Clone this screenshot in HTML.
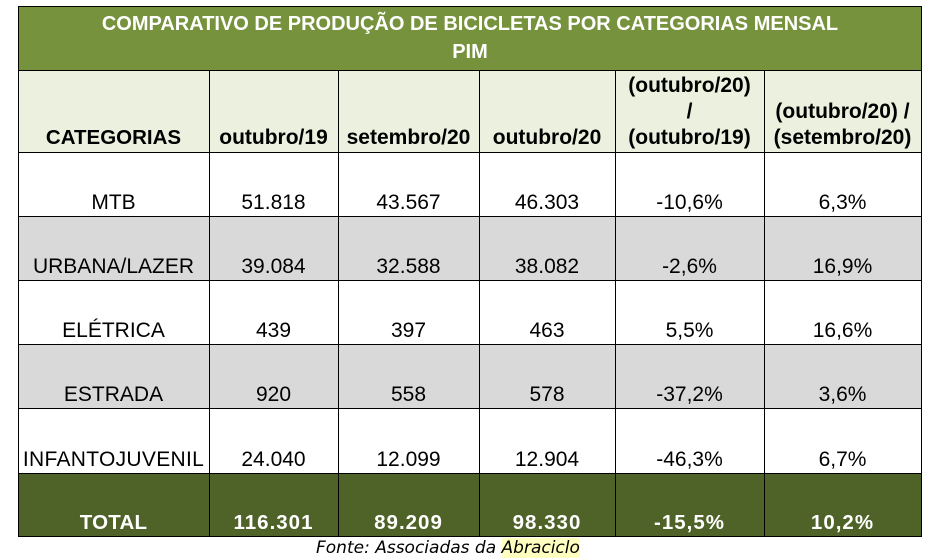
<!DOCTYPE html>
<html>
<head>
<meta charset="utf-8">
<style>
  html, body { margin:0; padding:0; }
  body { width:935px; height:557px; background:#ffffff; position:relative; overflow:hidden;
         font-family:"Liberation Sans", Arial, sans-serif; }
  .bg { position:absolute; }
  .c { position:absolute; display:flex; flex-direction:column; justify-content:flex-end; align-items:center;
       font-size:21px; line-height:26px; color:#000; text-align:center; white-space:nowrap; box-sizing:border-box; }
  .h { font-weight:bold; font-size:21px; }
  .t { font-weight:bold; color:#fff; letter-spacing:1px; font-size:20.5px; }
  .hl { position:absolute; height:1px; background:#000; }
  .vl { position:absolute; width:1px; background:#000; }
  .title { position:absolute; left:18px; width:904px; text-align:center; color:#fff; font-weight:bold;
           font-size:20px; white-space:nowrap; }
  .foot { position:absolute; left:316px; top:538px; height:20px; line-height:20px;
          font-family:"DejaVu Sans", Verdana, sans-serif; font-style:italic; font-size:17px; color:#000; white-space:nowrap; }
  .foot span { background:#FFFFC0; }
</style>
</head>
<body>
  <!-- backgrounds -->
  <div class="bg" style="left:18px;top:6px;width:904px;height:64px;background:#76923C;"></div>
  <div class="bg" style="left:18px;top:70px;width:904px;height:82px;background:#EBF1DE;"></div>
  <div class="bg" style="left:18px;top:216px;width:904px;height:64px;background:#D9D9D9;"></div>
  <div class="bg" style="left:18px;top:344px;width:904px;height:64px;background:#D9D9D9;"></div>
  <div class="bg" style="left:18px;top:473px;width:904px;height:63px;background:#4F6228;"></div>

  <!-- title -->
  <div class="title" style="top:10px;line-height:28px;">COMPARATIVO DE PRODUÇÃO DE BICICLETAS POR CATEGORIAS MENSAL</div>
  <div class="title" style="top:38px;line-height:28px;">PIM</div>

  <!-- header row -->
  <div class="c h" style="left:18px;top:70px;width:191px;height:82px;padding-bottom:1px;font-size:20.5px;">CATEGORIAS</div>
  <div class="c h" style="left:209px;top:70px;width:129px;height:82px;padding-bottom:1px;">outubro/19</div>
  <div class="c h" style="left:338px;top:70px;width:141px;height:82px;padding-bottom:1px;">setembro/20</div>
  <div class="c h" style="left:479px;top:70px;width:136px;height:82px;padding-bottom:1px;">outubro/20</div>
  <div class="c h" style="left:615px;top:70px;width:149px;height:82px;padding-bottom:1px;"><div>(outubro/20)</div><div>/</div><div>(outubro/19)</div></div>
  <div class="c h" style="left:764px;top:70px;width:157px;height:82px;padding-bottom:1px;"><div>(outubro/20) /</div><div>(setembro/20)</div></div>

  <!-- MTB -->
  <div class="c" style="left:18px;top:152px;width:191px;height:64px;">MTB</div>
  <div class="c" style="left:209px;top:152px;width:129px;height:64px;">51.818</div>
  <div class="c" style="left:338px;top:152px;width:141px;height:64px;">43.567</div>
  <div class="c" style="left:479px;top:152px;width:136px;height:64px;">46.303</div>
  <div class="c" style="left:615px;top:152px;width:149px;height:64px;">-10,6%</div>
  <div class="c" style="left:764px;top:152px;width:157px;height:64px;">6,3%</div>

  <!-- URBANA -->
  <div class="c" style="left:18px;top:216px;width:191px;height:64px;">URBANA/LAZER</div>
  <div class="c" style="left:209px;top:216px;width:129px;height:64px;">39.084</div>
  <div class="c" style="left:338px;top:216px;width:141px;height:64px;">32.588</div>
  <div class="c" style="left:479px;top:216px;width:136px;height:64px;">38.082</div>
  <div class="c" style="left:615px;top:216px;width:149px;height:64px;">-2,6%</div>
  <div class="c" style="left:764px;top:216px;width:157px;height:64px;">16,9%</div>

  <!-- ELETRICA -->
  <div class="c" style="left:18px;top:280px;width:191px;height:64px;">ELÉTRICA</div>
  <div class="c" style="left:209px;top:280px;width:129px;height:64px;">439</div>
  <div class="c" style="left:338px;top:280px;width:141px;height:64px;">397</div>
  <div class="c" style="left:479px;top:280px;width:136px;height:64px;">463</div>
  <div class="c" style="left:615px;top:280px;width:149px;height:64px;">5,5%</div>
  <div class="c" style="left:764px;top:280px;width:157px;height:64px;">16,6%</div>

  <!-- ESTRADA -->
  <div class="c" style="left:18px;top:344px;width:191px;height:64px;">ESTRADA</div>
  <div class="c" style="left:209px;top:344px;width:129px;height:64px;">920</div>
  <div class="c" style="left:338px;top:344px;width:141px;height:64px;">558</div>
  <div class="c" style="left:479px;top:344px;width:136px;height:64px;">578</div>
  <div class="c" style="left:615px;top:344px;width:149px;height:64px;">-37,2%</div>
  <div class="c" style="left:764px;top:344px;width:157px;height:64px;">3,6%</div>

  <!-- INFANTOJUVENIL -->
  <div class="c" style="left:18px;top:408px;width:191px;height:65px;font-size:21px;letter-spacing:0.3px;">INFANTOJUVENIL</div>
  <div class="c" style="left:209px;top:408px;width:129px;height:65px;">24.040</div>
  <div class="c" style="left:338px;top:408px;width:141px;height:65px;">12.099</div>
  <div class="c" style="left:479px;top:408px;width:136px;height:65px;">12.904</div>
  <div class="c" style="left:615px;top:408px;width:149px;height:65px;">-46,3%</div>
  <div class="c" style="left:764px;top:408px;width:157px;height:65px;">6,7%</div>

  <!-- TOTAL -->
  <div class="c t" style="left:18px;top:473px;width:191px;height:63px;letter-spacing:0.2px;">TOTAL</div>
  <div class="c t" style="left:209px;top:473px;width:129px;height:63px;">116.301</div>
  <div class="c t" style="left:338px;top:473px;width:141px;height:63px;">89.209</div>
  <div class="c t" style="left:479px;top:473px;width:136px;height:63px;">98.330</div>
  <div class="c t" style="left:615px;top:473px;width:149px;height:63px;">-15,5%</div>
  <div class="c t" style="left:764px;top:473px;width:157px;height:63px;">10,2%</div>

  <!-- horizontal lines -->
  <div class="hl" style="left:18px;top:6px;width:904px;"></div>
  <div class="hl" style="left:18px;top:70px;width:904px;"></div>
  <div class="hl" style="left:18px;top:152px;width:904px;"></div>
  <div class="hl" style="left:18px;top:216px;width:904px;"></div>
  <div class="hl" style="left:18px;top:280px;width:904px;"></div>
  <div class="hl" style="left:18px;top:344px;width:904px;"></div>
  <div class="hl" style="left:18px;top:408px;width:904px;"></div>
  <div class="hl" style="left:18px;top:473px;width:904px;"></div>
  <div class="hl" style="left:18px;top:536px;width:904px;"></div>

  <!-- vertical lines -->
  <div class="vl" style="left:18px;top:6px;height:531px;"></div>
  <div class="vl" style="left:921px;top:6px;height:531px;"></div>
  <div class="vl" style="left:209px;top:70px;height:467px;"></div>
  <div class="vl" style="left:338px;top:70px;height:467px;"></div>
  <div class="vl" style="left:479px;top:70px;height:467px;"></div>
  <div class="vl" style="left:615px;top:70px;height:467px;"></div>
  <div class="vl" style="left:764px;top:70px;height:467px;"></div>

  <!-- footer -->
  <div class="foot">Fonte: Associadas da <span>Abraciclo</span></div>
</body>
</html>
